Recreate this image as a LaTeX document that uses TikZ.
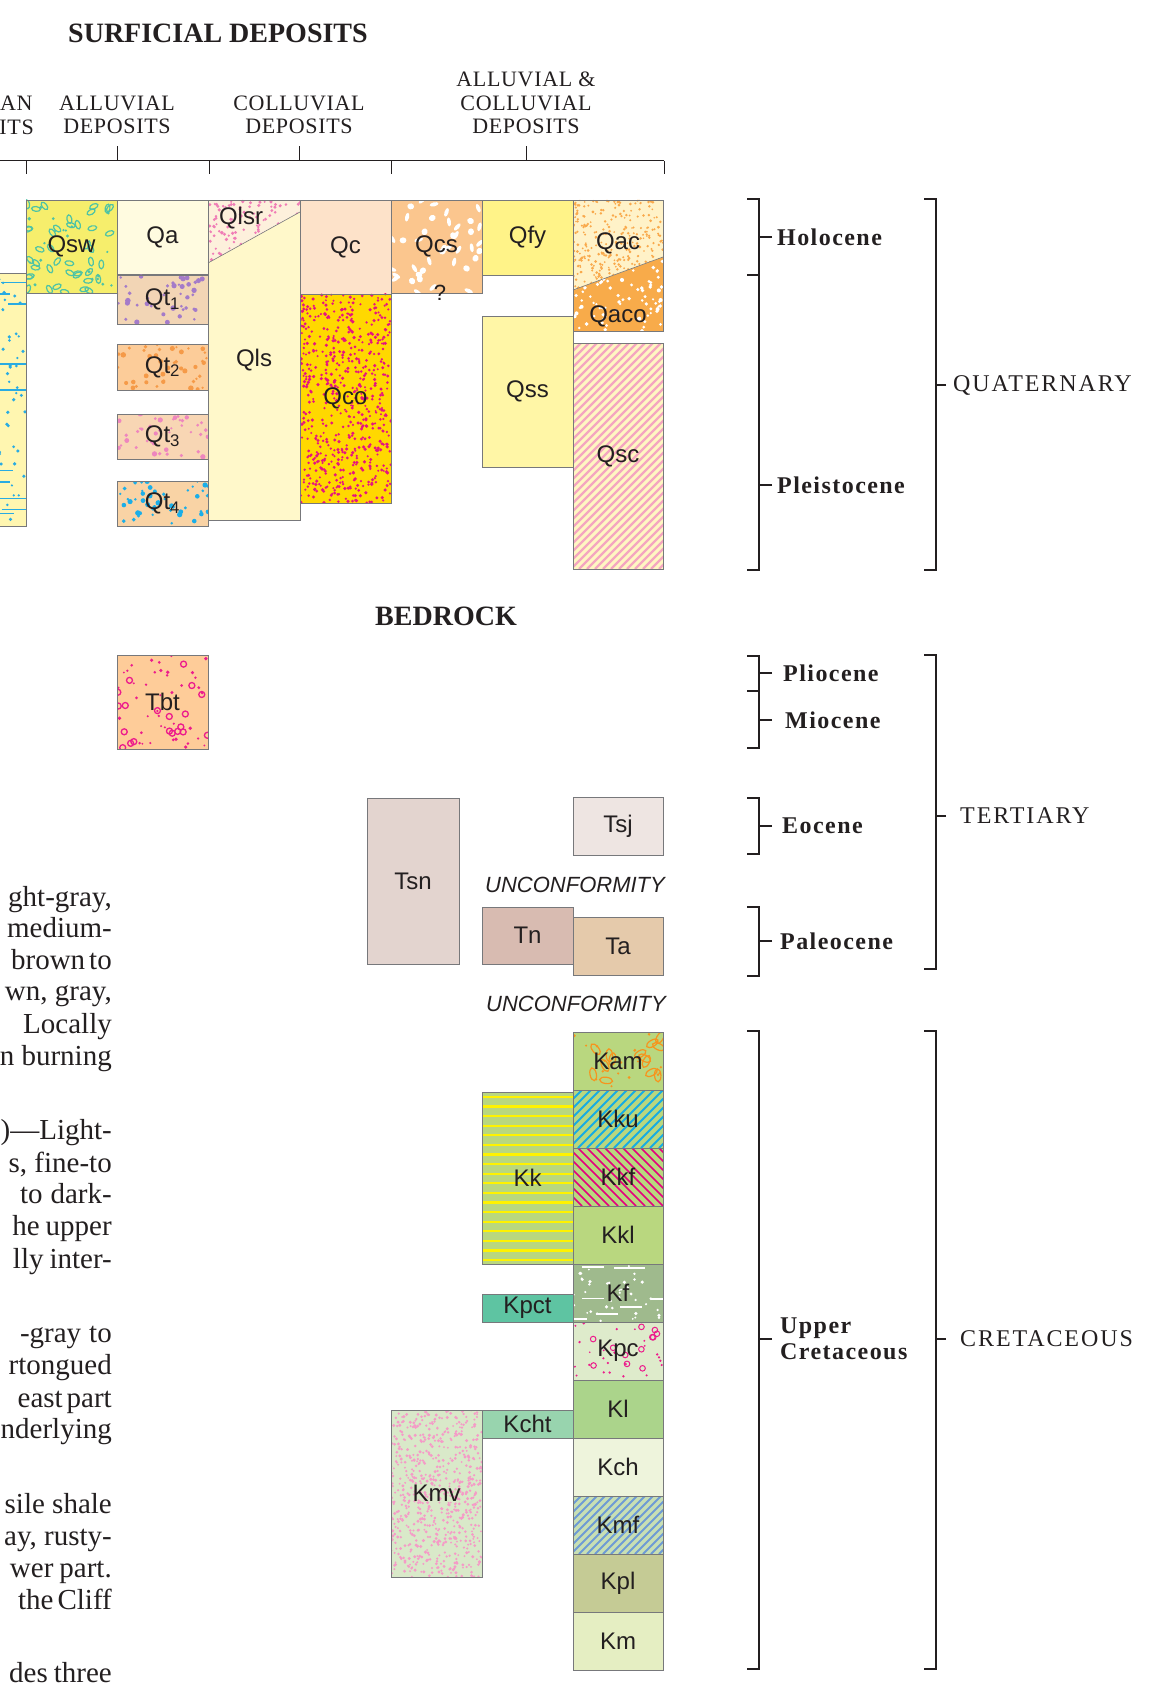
\documentclass[tikz,border=0pt]{standalone}
\usepackage{fontspec}
\setmainfont{Liberation Serif}
\newfontfamily\unitfont{Liberation Sans}
\newfontfamily\spacedfont{Liberation Serif}[LetterSpace=3]
\newfontfamily\periodfont{Liberation Serif}[LetterSpace=6]
\newfontfamily\systemfont{Liberation Serif}[LetterSpace=8]
\usetikzlibrary{positioning,calc}

\definecolor{ink}{HTML}{231F20}
\definecolor{boxline}{HTML}{77787B}
\definecolor{eolian}{HTML}{FFF6B0}
\definecolor{eoliandot}{HTML}{29ABE2}
\definecolor{qsw}{HTML}{F6EE6C}
\definecolor{qswring}{HTML}{4EC3A5}
\definecolor{qa}{HTML}{FFFBE0}
\definecolor{qtone}{HTML}{F2D5B5}
\definecolor{qtonedot}{HTML}{A47BC9}
\definecolor{qttwo}{HTML}{FCCC99}
\definecolor{qttwodot}{HTML}{F59A48}
\definecolor{qtthree}{HTML}{F8D6B4}
\definecolor{qtthreedot}{HTML}{EE86BE}
\definecolor{qtfour}{HTML}{F9D3A5}
\definecolor{qtfourdot}{HTML}{1BAEE8}
\definecolor{qls}{HTML}{FFF8CA}
\definecolor{qlsr}{HTML}{FDF0DC}
\definecolor{qlsrdot}{HTML}{F07DB6}
\definecolor{qc}{HTML}{FDE2C9}
\definecolor{qco}{HTML}{FFD800}
\definecolor{qcodot}{HTML}{E6157E}
\definecolor{qcs}{HTML}{FBC68E}
\definecolor{qfy}{HTML}{FFF388}
\definecolor{qss}{HTML}{FFF6A6}
\definecolor{qac}{HTML}{FFF2C8}
\definecolor{qacdot}{HTML}{F9A94B}
\definecolor{qaco}{HTML}{F8AB4A}
\definecolor{qsc}{HTML}{FFF6C2}
\definecolor{qscline}{HTML}{F4A6C0}
\definecolor{tbt}{HTML}{FECC99}
\definecolor{tbtdot}{HTML}{EC1C8C}
\definecolor{tsn}{HTML}{E3D4CF}
\definecolor{tsj}{HTML}{EEE5E2}
\definecolor{tn}{HTML}{D8BBB1}
\definecolor{ta}{HTML}{E5CAAB}
\definecolor{kgreen}{HTML}{B9D77F}
\definecolor{kamring}{HTML}{F7941D}
\definecolor{kkuline}{HTML}{17ACE3}
\definecolor{kkfline}{HTML}{E4007E}
\definecolor{kkline}{HTML}{FFF200}
\definecolor{kf}{HTML}{9FBA8D}
\definecolor{kpct}{HTML}{5EC4A2}
\definecolor{kpc}{HTML}{DEEBCB}
\definecolor{kl}{HTML}{ABD48B}
\definecolor{kcht}{HTML}{98D4AE}
\definecolor{kch}{HTML}{EEF4DC}
\definecolor{kmf}{HTML}{C8DFB4}
\definecolor{kmfline}{HTML}{6E9BD5}
\definecolor{kpl}{HTML}{C5CB95}
\definecolor{km}{HTML}{E5EEC2}
\definecolor{kmv}{HTML}{D9E9C9}
\definecolor{kmvdot}{HTML}{F59BC7}

% ground colour of a unit; keeps its corners for the patterns
\newcommand{\ground}[5]{\def\gx{#1}\def\gy{#2}\def\gX{#3}\def\gY{#4}\fill[#5] (#1,#2) rectangle (#3,#4);}
% outlined unit box with its label
\newcommand{\unitbox}[2]{\node[unit, minimum width={(\gX)-(\gx)}, minimum height={(\gY)-(\gy)}] (#1) at ({((\gx)+(\gX))/2},{((\gy)+(\gY))/2}) {#2};}
% colour, count, smallest radius, spread
\newcommand{\speckle}[4]{%
  \begin{scope}
    \clip (\gx,\gy) rectangle (\gX,\gY);
    \foreach \i in {1,...,#2}{
      \pgfmathsetmacro\px{(\gx)+((\gX)-(\gx))*rnd}
      \pgfmathsetmacro\py{(\gy)+((\gY)-(\gy))*rnd}
      \pgfmathsetmacro\pr{#3+#4*rnd}
      \fill[#1] (\px,\py) circle[radius=\pr pt];
    }
  \end{scope}}
% colour, count, radius, width
\newcommand{\rings}[4]{%
  \begin{scope}
    \clip (\gx,\gy) rectangle (\gX,\gY);
    \foreach \i in {1,...,#2}{
      \pgfmathsetmacro\px{(\gx)+((\gX)-(\gx))*rnd}
      \pgfmathsetmacro\py{(\gy)+((\gY)-(\gy))*rnd}
      \draw[#1, line width=#4] (\px,\py) circle[radius=#3];
    }
  \end{scope}}
% colour, count, x radius, y radius, draw/fill
\newcommand{\pebbles}[5]{%
  \begin{scope}
    \clip (\gx,\gy) rectangle (\gX,\gY);
    \foreach \i in {1,...,#2}{
      \pgfmathsetmacro\px{(\gx)+((\gX)-(\gx))*rnd}
      \pgfmathsetmacro\py{(\gy)+((\gY)-(\gy))*rnd}
      \pgfmathsetmacro\pa{180*rnd}
      \path[#5=#1, line width=1.2pt, rotate around={\pa:(\px,\py)}] (\px,\py) ellipse [x radius=#3, y radius=#4];
    }
  \end{scope}}
% colour, gap, direction (1 or -1), width
\newcommand{\hatch}[4]{%
  \begin{scope}
    \clip (\gx,\gy) rectangle (\gX,\gY);
    \pgfmathsetmacro\hh{(\gY)-(\gy)}
    \pgfmathsetmacro\hs{(\gx)-\hh}
    \pgfmathsetmacro\hn{\hs+#2}
    \pgfmathsetmacro\hm{(\gy)+(\gY)}
    \foreach \d in {\hs,\hn,...,\gX}
      \draw[#1, line width=#4] (\d,{\hm/2+(#3)*\hh/2}) -- ++(\hh,{-(#3)*\hh});
  \end{scope}}
% colour, gap, width
\newcommand{\stripes}[3]{%
  \pgfmathsetmacro\lnA{(\gy)+#2/2}
  \pgfmathsetmacro\lnB{\lnA+#2}
  \foreach \yy in {\lnA,\lnB,...,\gY}
    \draw[#1, line width=#3] (\gx,\yy) -- (\gX,\yy);}
% colour, count, length, width
\newcommand{\streaks}[4]{%
  \begin{scope}
    \clip (\gx,\gy) rectangle (\gX,\gY);
    \foreach \i in {1,...,#2}{
      \pgfmathsetmacro\px{(\gx)+((\gX)-(\gx))*rnd-10}
      \pgfmathsetmacro\py{(\gy)+((\gY)-(\gy))*rnd}
      \draw[#1, line width=#4] (\px,\py) -- ++(#3,0);
    }
  \end{scope}}
\newcommand{\bracket}[3]{\draw[rule] (#1-12,#2) -- (#1,#2) -- (#1,#3) -- (#1-12,#3);}

\begin{document}
\begin{tikzpicture}[x=1pt, y=-1pt,
    unit/.style={rectangle, draw=boxline, line width=0.8pt, inner sep=0pt, text=ink,
      font=\unitfont\fontsize{24}{24}\selectfont},
    tag/.style={inner sep=0pt, text=ink, font=\unitfont\fontsize{24}{24}\selectfont},
    rule/.style={draw=ink, line width=1.2pt},
    heading/.style={text=ink, inner sep=0pt, font=\bfseries\fontsize{28}{28}\selectfont},
    colhead/.style={align=center, text=ink, inner sep=0pt, font=\spacedfont\fontsize{22}{23.5}\selectfont},
    period/.style={anchor=west, inner ysep=0pt, inner xsep=5pt, text=ink,
      font=\periodfont\bfseries\fontsize{24}{26}\selectfont},
    system/.style={anchor=west, inner ysep=0pt, inner xsep=7pt, text=ink,
      font=\systemfont\fontsize{24}{24}\selectfont},
    remark/.style={inner sep=0pt, text=ink, font=\unitfont\itshape\fontsize{22}{22}\selectfont},
    prose/.style={anchor=base east, inner sep=0pt, text=ink, font=\fontsize{29}{29}\selectfont}
]
\useasboundingbox (0,0) rectangle (1157,1693);
\begin{scope}
\clip (0,0) rectangle (1157,1693);
\pgfmathsetseed{1157}

% headings
\node[heading] (surficial) at (218,33) {SURFICIAL DEPOSITS};
\node[heading] (bedrock) at (446,616) {BEDROCK};
\node[colhead, anchor=west] (eolianhda) at (0,103) {AN};
\node[colhead, anchor=east] (eolianhdb) at (34,127) {ITS};
\node[colhead] (alluvhd) at (117,115) {ALLUVIAL\\DEPOSITS};
\node[colhead] (colluvhd) at (299,115) {COLLUVIAL\\DEPOSITS};
\node[colhead] (bothhd) at (526,103) {ALLUVIAL \&\\COLLUVIAL\\DEPOSITS};

\coordinate (grpl) at (0,161);
\coordinate (grpr) at (664,161);
\draw[rule, line width=1pt] (grpl) -- (grpr);
\foreach \x in {26,209,391,664}
  \draw[rule, line width=1pt] (\x,161) -- ++(0,13);
\draw[rule, line width=1pt] (alluvhd.south |- grpl) -- ++(0,-15);
\draw[rule, line width=1pt] (colluvhd.south |- grpl) -- ++(0,-15);
\draw[rule, line width=1pt] (bothhd.south |- grpl) -- ++(0,-15);

% surficial deposits
\ground{-10}{273}{26}{526}{eolian}\speckle{eoliandot}{50}{1.2}{0.7}\streaks{eoliandot}{10}{30}{1.6}
\unitbox{eolian}{}
\ground{26}{200}{117}{293}{qsw}\pebbles{qswring}{42}{2.4pt}{4.4pt}{draw}\speckle{qswring}{20}{1.2}{0.6}
\unitbox{qsw}{Qsw}
\ground{117}{200}{208}{274}{qa}
\unitbox{qa}{Qa}
\ground{117}{275}{208}{324}{qtone}\speckle{qtonedot}{42}{1.2}{1.6}
\unitbox{qtone}{Qt\textsubscript{1}}
\ground{117}{344}{208}{390}{qttwo}\speckle{qttwodot}{42}{1.2}{1.6}
\unitbox{qttwo}{Qt\textsubscript{2}}
\ground{117}{414}{208}{459}{qtthree}\speckle{qtthreedot}{42}{1.2}{1.6}
\unitbox{qtthree}{Qt\textsubscript{3}}
\ground{117}{481}{208}{526}{qtfour}\speckle{qtfourdot}{46}{1.2}{1.6}
\unitbox{qtfour}{Qt\textsubscript{4}}

\ground{208}{200}{300}{520}{qls}
\begin{scope}
  \clip (208,200) -- (300,200) -- (300,212) -- (208,263) -- cycle;
  \ground{208}{200}{300}{263}{qlsr}\speckle{qlsrdot}{130}{1.1}{0.7}
\end{scope}
\draw[boxline, line width=0.6pt] (208,263) -- (300,212);
\unitbox{qls}{Qls}
\node[tag] (qlsr) at (241,218) {Qlsr};

\ground{300}{200}{391}{294}{qc}
\unitbox{qc}{Qc}
\ground{300}{294}{391}{503}{qco}\speckle{qcodot}{620}{1.1}{0.7}
\unitbox{qco}{Qco}
\ground{391}{200}{482}{293}{qcs}\pebbles{white}{24}{2pt}{4.5pt}{fill}\pebbles{white}{16}{3pt}{3.4pt}{fill}
\unitbox{qcs}{Qcs}
\node[tag, font=\unitfont\fontsize{22}{22}\selectfont] (qcsq) at (440,293) {?};
\ground{482}{200}{573}{275}{qfy}
\unitbox{qfy}{Qfy}
\ground{482}{316}{573}{467}{qss}
\unitbox{qss}{Qss}

\ground{573}{200}{663}{331}{qaco}\speckle{white}{170}{1.2}{0.9}
\begin{scope}
  \clip (573,200) -- (663,200) -- (663,257) -- (573,290) -- cycle;
  \ground{573}{200}{663}{290}{qac}\speckle{qacdot}{320}{0.9}{0.6}
\end{scope}
\draw[boxline, line width=0.6pt] (573,290) -- (663,257);
\unitbox{qacbox}{}
\node[tag] (qac) at (618,243) {Qac};
\node[tag] (qaco) at (618,316) {Qaco};
\ground{573}{343}{663}{569}{qsc}\hatch{qscline}{8}{1}{2.2pt}
\unitbox{qsc}{Qsc}

% bedrock
\ground{117}{655}{208}{749}{tbt}\rings{tbtdot}{20}{3pt}{1.3pt}\speckle{tbtdot}{40}{1.0}{0.9}
\unitbox{tbt}{Tbt}
\ground{367}{798}{459}{964}{tsn}
\unitbox{tsn}{Tsn}
\ground{573}{797}{663}{855}{tsj}
\unitbox{tsj}{Tsj}
\node[remark] (unconfa) at (575,885) {UNCONFORMITY};
\ground{482}{907}{573}{964}{tn}
\unitbox{tn}{Tn}
\ground{573}{917}{663}{975}{ta}
\unitbox{ta}{Ta}
\node[remark] (unconfb) at (576,1004) {UNCONFORMITY};

\ground{573}{1032}{663}{1090}{kgreen}\pebbles{kamring}{14}{6.5pt}{3.2pt}{draw}\speckle{kamring}{18}{1.0}{0.6}
\unitbox{kam}{Kam}
\ground{573}{1090}{663}{1148}{kgreen}\hatch{kkuline}{9}{1}{2pt}
\unitbox{kku}{Kku}
\ground{573}{1148}{663}{1206}{kgreen}\hatch{kkfline}{9}{-1}{1.6pt}
\unitbox{kkf}{Kkf}
\ground{573}{1206}{663}{1264}{kgreen}
\unitbox{kkl}{Kkl}
\ground{573}{1264}{663}{1322}{kf}\speckle{white}{40}{1.0}{0.8}\streaks{white}{8}{22}{1.5pt}
\unitbox{kf}{Kf}
\ground{573}{1322}{663}{1380}{kpc}\rings{tbtdot}{12}{2.8pt}{1pt}\speckle{tbtdot}{24}{0.9}{0.5}
\unitbox{kpc}{Kpc}
\ground{573}{1380}{663}{1438}{kl}
\unitbox{kl}{Kl}
\ground{573}{1438}{663}{1496}{kch}
\unitbox{kch}{Kch}
\ground{573}{1496}{663}{1554}{kmf}\hatch{kmfline}{8}{1}{2pt}
\unitbox{kmf}{Kmf}
\ground{573}{1554}{663}{1612}{kpl}
\unitbox{kpl}{Kpl}
\ground{573}{1612}{663}{1670}{km}
\unitbox{km}{Km}

\ground{482}{1092}{573}{1264}{kgreen}\stripes{kkline}{9.6}{2.2pt}
\unitbox{kk}{Kk}
\ground{482}{1294}{573}{1322}{kpct}
\unitbox{kpct}{Kpct}
\ground{482}{1410}{573}{1438}{kcht}
\unitbox{kcht}{Kcht}
\ground{391}{1410}{482}{1577}{kmv}\speckle{kmvdot}{680}{1.0}{0.7}
\unitbox{kmv}{Kmv}

% time brackets
\bracket{759}{199}{275}
\bracket{759}{275}{570}
\bracket{936}{199}{570}
\node[period] (holocene) at (772,237) {Holocene};
\node[period] (pleistocene) at (772,485) {Pleistocene};
\node[system] (quaternary) at (946,385) {QUATERNARY};
\draw[rule] (holocene.west) -- ++(-13,0);
\draw[rule] (pleistocene.west) -- ++(-13,0);
\draw[rule] (quaternary.west) -- ++(-10,0);

\bracket{759}{656}{691}
\bracket{759}{691}{748}
\bracket{759}{798}{854}
\bracket{759}{907}{976}
\bracket{936}{655}{969}
\node[period, inner xsep=11pt] (pliocene) at (772,673) {Pliocene};
\node[period, inner xsep=13pt] (miocene) at (772,720) {Miocene};
\node[period, inner xsep=10pt] (eocene) at (772,826) {Eocene};
\node[period, inner xsep=8pt] (paleocene) at (772,941) {Paleocene};
\node[system, inner xsep=14pt] (tertiary) at (946,816) {TERTIARY};
\draw[rule] (pliocene.west) -- ++(-13,0);
\draw[rule] (miocene.west) -- ++(-13,0);
\draw[rule] (eocene.west) -- ++(-13,0);
\draw[rule] (paleocene.west) -- ++(-13,0);
\draw[rule] (tertiary.west) -- ++(-10,0);

\bracket{759}{1031}{1669}
\bracket{936}{1031}{1669}
\node[period, align=left, inner xsep=8pt] (uppercret) at (772,1339) {Upper\\Cretaceous};
\node[system, inner xsep=14pt] (cretaceous) at (946,1339) {CRETACEOUS};
\draw[rule] (uppercret.west) -- ++(-13,0);
\draw[rule] (cretaceous.west) -- ++(-10,0);

% cut text of the facing page
\foreach \yy/\words [count=\n] in {
    906/{ght-gray,}, 937/{medium-}, 969/{brown\hspace{4pt}to}, 1000/{wn, gray,},
    1033/{Locally}, 1065/{n burning},
    1139/{)—Light-}, 1172/{s, fine-to}, 1203/{to\hspace{8pt}dark-},
    1235/{he\hspace{6pt}upper}, 1268/{lly\hspace{6pt}inter-},
    1342/{-gray\hspace{8pt}to}, 1374/{rtongued}, 1407/{east\hspace{4pt}part}, 1438/{nderlying},
    1513/{sile shale}, 1545/{ay, rusty-}, 1577/{wer\hspace{6pt}part.}, 1609/{the\hspace{4pt}Cliff},
    1682/{des\hspace{6pt}three}}
  \node[prose] (prose\n) at (112,\yy) {\words};
\end{scope}
\end{tikzpicture}
\end{document}
